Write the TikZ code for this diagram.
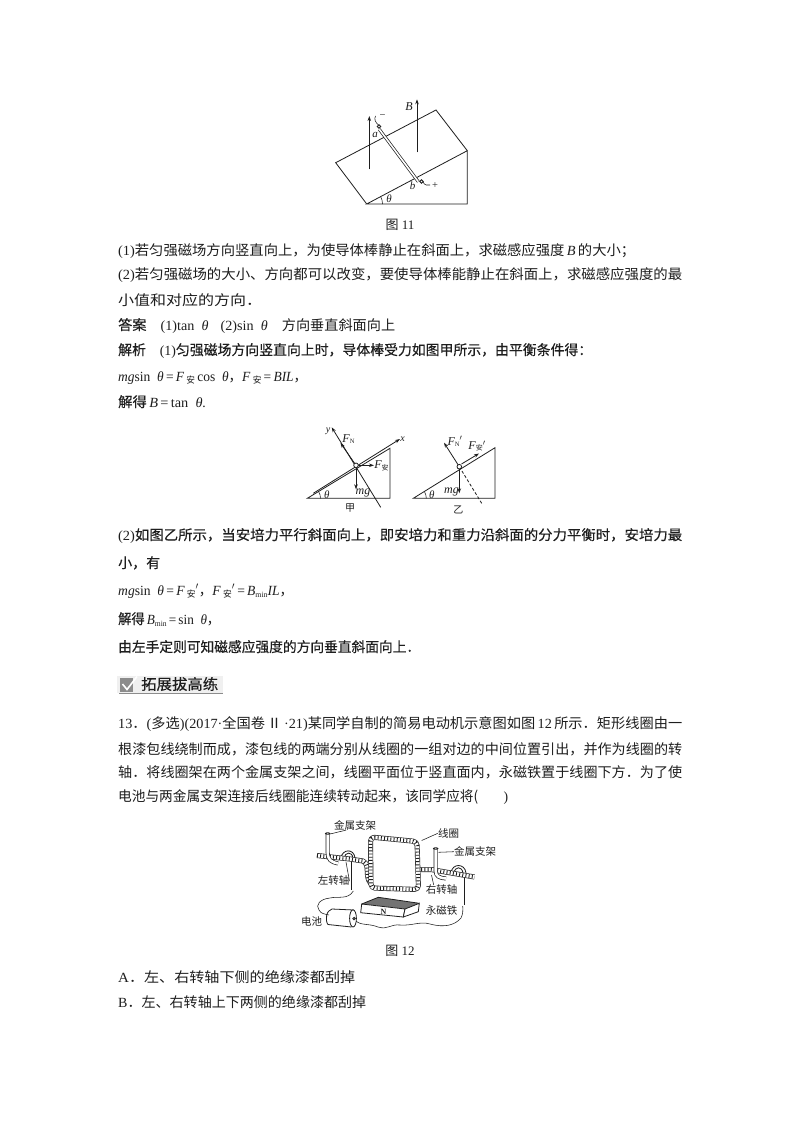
\documentclass[tikz,border=0pt]{standalone}
\usepackage{graphicx}
\usepackage{fontspec}
\setmainfont{Liberation Serif}
\newfontfamily\cjk{Noto Sans CJK SC}
\newfontfamily\cjkb[FakeBold=0.35]{Noto Sans CJK SC}
\usetikzlibrary{arrows.meta}
\definecolor{ink}{HTML}{1E1E1E}
\newcommand\C[1]{{\cjk #1}}
\newcommand\D[1]{{\cjkb #1}}
\newcommand\sub[1]{\raisebox{-2.5pt}{\fontsize{8}{8}\selectfont #1}}
\newcommand\An{\raisebox{-2.5pt}{\fontsize{9}{9}\selectfont\cjk 安}}
\newcommand\Th{\textit{θ}}
\newcommand\tlw[5]{\node[txt] (#1) at (#2,#3) {\resizebox{#4pt}{\height}{#5}};}
\tikzset{
  txt/.style={anchor=base west,inner sep=0pt,text=ink,font=\fontsize{14}{14}\selectfont},
  figcap/.style={anchor=center,inner sep=0pt,text=ink,font=\fontsize{13}{13}\selectfont},
  lab/.style={anchor=center,inner sep=0pt,text=ink,font=\fontsize{10.5}{10.5}\selectfont},
  ln/.style={draw=ink,line width=0.8pt},
  arr/.style={draw=ink,line width=0.8pt,-{Stealth[length=5pt,width=3.5pt]}},
  thin wire/.style={draw=ink,line width=0.55pt},
  tube/.style={draw=ink,line width=4pt,postaction={draw=white,line width=2.6pt}},
  rope/.style={draw=ink,line width=5pt,line join=round,
     postaction={draw=white,line width=3.7pt,line join=round},
     postaction={draw=ink,line width=3.7pt,dash pattern=on 0.9pt off 2.3pt}},
}
\begin{document}
\begin{tikzpicture}[x=1pt,y=-1pt]
\useasboundingbox (0,0) rectangle (800,1132);
\fill[white] (0,0) rectangle (800,1132);

% ---------- Figure 11
\draw[ln] (366.7,204) -- (335.7,162.7) -- (436,110) -- (467.3,150.7) -- (366.7,204) -- (467.3,204) -- (467.3,150.7);
\draw[arr] (369.3,169.3) -- (369.3,116);
\draw[arr] (417,152.3) -- (417,99.3);
\draw[draw=ink,line width=3pt] (379.3,129.3) -- (418.3,181.7);
\draw[draw=white,line width=1.6pt] (379.3,129.3) -- (418.3,181.7);
\draw[ln,fill=white] (379,126.5) circle (1.7);
\draw[thin wire] (378.5,125) .. controls (375,122) and (374,119) .. (375.5,116);
\draw[ln,fill=white] (421.5,181.5) circle (1.7);
\draw[thin wire] (423,182) .. controls (425,186) and (427,185) .. (430,185);
\node[lab,font=\fontsize{12}{12}\selectfont\itshape] (labB) at (409,106.5) {B};
\node[lab,font=\fontsize{11}{11}\selectfont\itshape] (laba) at (375,135) {a};
\node[lab,font=\fontsize{11}{11}\selectfont\itshape] (labb) at (412.7,185.5) {b};
\node[lab] (labm) at (382.5,117) {−};
\node[lab] (labp) at (435,186) {+};
\node[lab,font=\fontsize{11}{11}\selectfont] (labt) at (389,198.3) {\Th};
\draw[thin wire] (382.5,204) arc[start angle=0,end angle=-28,radius=16];
\node[figcap] (f11) at (400,225) {\C{图} 11};

% ---------- body text 1
\tlw{a1}{118}{255}{517}{(1)\C{若匀强磁场方向竖直向上，为使导体棒静止在斜面上，求磁感应强度}\,\textit{B}\,\C{的大小；}}
\tlw{a2}{118}{279.5}{564}{(2)\C{若匀强磁场的大小、方向都可以改变，要使导体棒能静止在斜面上，求磁感应强度的最}}
\tlw{a3}{118}{305}{144}{\C{小值和对应的方向．}}
\tlw{a4}{118}{330}{277}{\D{答案}\hspace{14pt}(1)tan\ \ \Th\hspace{12pt}(2)sin\ \ \Th\hspace{14pt}\C{方向垂直斜面向上}}
\tlw{a5}{118}{355}{474}{\D{解析}\hspace{14pt}(1)\D{匀强磁场方向竖直向上时，导体棒受力如图甲所示，由平衡条件得：}}
\tlw{a6}{118}{381}{189}{\textit{mg}sin\ \ \Th\,=\,\textit{F}\,\An\,cos\ \ \Th\C{，}\textit{F}\,\An\,=\,\textit{BIL}\C{，}}
\tlw{a7}{118}{407}{88}{\D{解得}\,\textit{B}\,=\,tan\ \ \Th\textit{.}}

% ---------- Figure jia
\draw[ln] (307.3,498.3) -- (390,498.3) -- (390,448.3) -- cycle;
\draw[arr] (313.3,493.3) -- (400,439);
\draw[arr] (380.7,507.3) -- (331.7,427.3);
\draw[arr] (356,465.3) -- (340.5,443);
\draw[arr] (356,465.3) -- (374,465.3);
\draw[arr] (356,465.3) -- (356,489.3);
\draw[ln,fill=white] (356,465.3) circle (2.3);
\draw[thin wire] (320.5,498.3) arc[start angle=0,end angle=-31,radius=13];
\node[lab,font=\fontsize{10}{10}\selectfont\itshape] (jy) at (328,431.5) {y};
\node[lab,font=\fontsize{10}{10}\selectfont\itshape] (jx) at (402.5,439) {x};
\node[lab,font=\fontsize{12}{12}\selectfont] (jn) at (348.5,439) {\textit{F}\raisebox{-1.5pt}{\fontsize{6.5}{6.5}\selectfont N}};
\node[lab,font=\fontsize{12}{12}\selectfont] (ja) at (381.5,466) {\textit{F}\raisebox{-1.5pt}{\fontsize{7}{7}\selectfont\cjk 安}};
\node[lab,font=\fontsize{12}{12}\selectfont\itshape] (jg) at (363,492.5) {mg};
\node[lab,font=\fontsize{11}{11}\selectfont] (jt) at (326.7,495) {\Th};
\node[lab,font=\fontsize{10}{10}\selectfont\cjk] (jj) at (350,508.5) {甲};

% ---------- Figure yi
\draw[ln] (413.3,498.3) -- (495,498.3) -- (495,447.7) -- cycle;
\draw[arr] (459.3,466.7) -- (444,442.7);
\draw[ln,dashed,dash pattern=on 3pt off 2pt] (459.3,466.7) -- (481.7,503.3);
\draw[arr] (459.3,466.7) -- (459.3,493.3);
\draw[arr] (461.5,464) -- (479,453.5);
\draw[ln,fill=white] (459.3,466.7) circle (2.3);
\draw[thin wire] (426.3,498.3) arc[start angle=0,end angle=-31,radius=13];
\node[lab,font=\fontsize{12}{12}\selectfont] (yn) at (455,441.5) {\textit{F}\raisebox{-1.5pt}{\fontsize{6.5}{6.5}\selectfont N}$'$};
\node[lab,font=\fontsize{12}{12}\selectfont] (ya) at (477,446) {\textit{F}\raisebox{-1.5pt}{\fontsize{7}{7}\selectfont\cjk 安}$'$};
\node[lab,font=\fontsize{12}{12}\selectfont\itshape] (yg) at (451.5,492.3) {mg};
\node[lab,font=\fontsize{11}{11}\selectfont] (yt) at (431.7,495) {\Th};
\node[lab,font=\fontsize{10}{10}\selectfont\cjk] (yy) at (458.3,510) {乙};

% ---------- body text 2
\tlw{b1}{118}{540}{564}{(2)\D{如图乙所示，当安培力平行斜面向上，即安培力和重力沿斜面的分力平衡时，安培力最}}
\tlw{b2}{118}{568}{42}{\D{小，有}}
\tlw{b3}{118}{595}{175}{\textit{mg}sin\ \ \Th\,=\,\textit{F}\,\An$'$\C{，}\textit{F}\,\An$'$\,=\,\textit{B}\sub{min}\textit{IL}\C{，}}
\tlw{b4}{118}{624}{102}{\D{解得}\,\textit{B}\sub{min}\,=\,sin\ \ \Th\C{，}}
\tlw{b5}{118}{652}{302}{\D{由左手定则可知磁感应强度的方向垂直斜面向上．}}

% ---------- section header
\fill[black!6] (117,676) rectangle (223,693);
\fill[black!45] (120,678.3) rectangle (133.3,691.7);
\draw[white,line width=1.6pt] (122.5,684) -- (127,689.5) -- (137,676.5);
\draw[black!45,line width=1pt] (119,693.6) -- (222.7,693.6);
\node[anchor=west,inner sep=0pt,text=ink,font=\fontsize{15}{15}\selectfont\cjkb] (head) at (141,684) {\resizebox{77pt}{\height}{拓展拔高练}};

% ---------- body text 3
\tlw{c1}{118}{728}{564}{13\C{．}(\C{多选})(2017·\C{全国卷\,Ⅱ\,}·21)\C{某同学自制的简易电动机示意图如图}\,12\,\C{所示．矩形线圈由一}}
\tlw{c2}{118}{754}{564}{\C{根漆包线绕制而成，漆包线的两端分别从线圈的一组对边的中间位置引出，并作为线圈的转}}
\tlw{c3}{118}{777.5}{564}{\C{轴．将线圈架在两个金属支架之间，线圈平面位于竖直面内，永磁铁置于线圈下方．为了使}}
\tlw{c4}{118}{801}{390}{\C{电池与两金属支架连接后线圈能连续转动起来，该同学应将(}\hspace{26pt})}

% ---------- Figure 12
% wires
\draw[thin wire] (353.3,891) .. controls (348,900) and (338,896) .. (330,898) .. controls (320,899) and (315,905) .. (319,910) .. controls (321,914) and (325,914) .. (329,915);
\draw[thin wire] (355,920) .. controls (360,926) and (368,923) .. (378,927) .. controls (388,930) and (390,924) .. (400,925) .. controls (412,926) and (420,921) .. (430,924) .. controls (445,928) and (455,925) .. (461,918) .. controls (463,914) and (463,910) .. (462.7,906);
% magnet
\fill[black!55] (361.7,904) -- (378.3,897.3) -- (419.3,903.3) -- (405,909) -- cycle;
\draw[ln,fill=white] (361.7,904) -- (405,909) -- (403.3,917) -- (360.7,912.7) -- cycle;
\draw[ln,fill=white] (405,909) -- (419.3,903.3) -- (418.3,911.7) -- (403.3,917) -- cycle;
\draw[ln] (361.7,904) -- (378.3,897.3) -- (419.3,903.3);
\node[lab,font=\fontsize{8}{8}\selectfont\bfseries] (magN) at (383.5,911.5) {N};
% battery
\fill[white] (353.5,910) -- (332,909) -- (328,924.5) -- (351.5,927) -- cycle;
\draw[ln] (353.5,910) -- (332,909) .. controls (326,910) and (325,921) .. (328,924.5) -- (351.5,927);
\draw[ln,fill=white] (353,918.4) ellipse (3.4 and 8.6);
\draw[ln] (354,918.5) circle (1.2);
% holders under the axle
\draw[ln] (341,858) .. controls (342,849) and (354,848) .. (355,858);
\draw[ln] (344,858) .. controls (345,852) and (352,851) .. (353,858);
\draw[ln] (451,873) .. controls (452,863) and (465,863) .. (466,873);
\draw[ln] (454,873) .. controls (455,866) and (462,866) .. (463,873);
\draw[tube] (353.3,860) -- (353.3,890);
\draw[tube] (462.7,873.5) -- (462.7,905);
% axles and coil
\draw[rope] (317,855.5) -- (350,859) -- (363,861) .. controls (368,863) and (367,870) .. (367.5,875) .. controls (368,879) and (369,882) .. (371,884);
\draw[rope] (418,869.5) -- (431,869.5) -- (474.5,877);
\draw[rope,rounded corners=4pt] (370.5,837) -- (417,841.5) -- (418.5,889.5) -- (371,888) -- cycle;
% supports
\draw[tube] (327.7,833.5) -- (327.7,852) .. controls (327.7,860) and (331,862) .. (338,863.5);
\draw[ln,fill=white] (327.7,833.5) ellipse (2.2 and 0.8);
\draw[tube] (435.7,848.5) -- (435.7,871) .. controls (435.7,876) and (439,878) .. (446,878.5);
\draw[ln,fill=white] (435.7,848.5) ellipse (2.2 and 0.8);
% labels
\node[lab] (s1) at (355,825) {\C{金属支架}};
\node[lab] (s2) at (475,851.7) {\C{金属支架}};
\node[lab] (s3) at (448.5,833.3) {\C{线圈}};
\node[lab] (s4) at (333.5,881) {\C{左转轴}};
\node[lab] (s5) at (441.7,890) {\C{右转轴}};
\node[lab] (s6) at (441.7,910) {\C{永磁铁}};
\node[lab] (s7) at (311.7,921.7) {\C{电池}};
\draw[thin wire] (s1.210) -- (330,834);
\draw[thin wire] (s3.west) -- (421.7,840.5);
\draw[thin wire] (s2.west) -- (438.5,852.3);
\draw[thin wire] (s4.east) -- (346,862);
\draw[thin wire] (s5.north) ++(-8,0) -- (431.5,875);

\node[figcap] (f12) at (400,951) {\C{图} 12};
\tlw{d1}{118}{982}{237}{A\C{．左、右转轴下侧的绝缘漆都刮掉}}
\tlw{d2}{118}{1007}{248}{B\C{．左、右转轴上下两侧的绝缘漆都刮掉}}
\end{tikzpicture}
\end{document}
